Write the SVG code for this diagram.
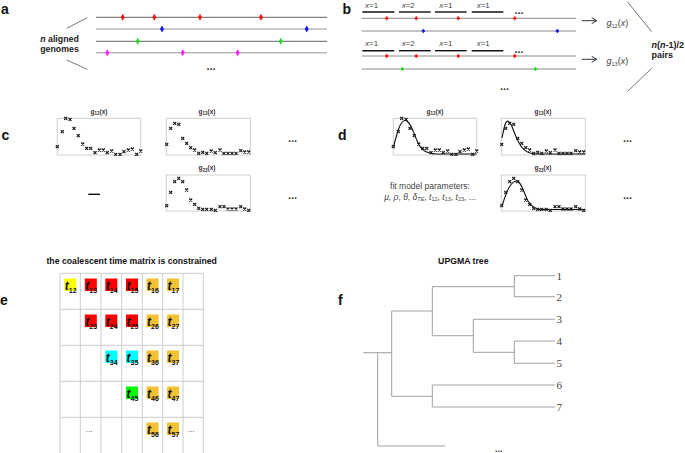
<svg xmlns="http://www.w3.org/2000/svg" width="685" height="453" viewBox="0 0 685 453">
<style>
text{font-family:"Liberation Sans",Arial,sans-serif}
.lbl{font-size:14px;font-weight:bold;fill:#111}
.gl1{stroke:#808080;stroke-width:1.2}
.gl2{stroke:#b8b8b8;stroke-width:1.6}
.gl3{stroke:#8a8a8a;stroke-width:1}
.seg{stroke:#111;stroke-width:1.4}
.br{stroke:#666;stroke-width:0.9}
.r{fill:#ff1010}.b{fill:#1818e8}.g{fill:#22e022}.m{fill:#ff20ff}
.xl{font-size:8px;fill:#444}
.box{fill:none;stroke:#cfcfcf;stroke-width:1}
.pt{font-size:6.5px;fill:#333;font-weight:bold}
.cv{fill:none;stroke:#111;stroke-width:1.1}
.dots{font-size:11px;fill:#333;font-weight:bold}
.grid{stroke:#cccccc;stroke-width:1;fill:none}
.tt{font-size:12px;font-weight:bold;font-style:italic;fill:#111}
.ts{font-size:7px;font-weight:bold;font-style:normal;fill:#111}
.tr{stroke:#a0a0a0;stroke-width:1;fill:none}
.leaf{font-family:"Liberation Serif","Times New Roman",serif;font-size:11px;fill:#444}
.ttl{font-size:8.7px;font-weight:bold;fill:#111;text-anchor:middle}
</style>
<defs>
<path id="dm" d="M0,-3.5 L2,0 L0,3.5 L-2,0 Z"/>
<path id="dm2" d="M0,-2.3 L1.9,0 L0,2.3 L-1.9,0 Z"/>
<path id="xm" d="M-1.5,-1.5 L1.5,1.5 M1.5,-1.5 L-1.5,1.5" stroke="#1a1a1a" stroke-width="1.2" fill="none"/>
<marker id="arr" markerWidth="8" markerHeight="8" refX="6" refY="4" orient="auto" markerUnits="userSpaceOnUse">
<path d="M1,1 L6,4 L1,7" fill="none" stroke="#333" stroke-width="1"/>
</marker>
</defs>
<rect width="685" height="453" fill="#ffffff"/>

<g id="panel-a">
<text class="lbl" x="1" y="13.5">a</text>
<line class="br" x1="66.7" y1="28.3" x2="87.3" y2="17.7"/>
<line class="br" x1="66.7" y1="60" x2="87.3" y2="69.3"/>
<text x="59.5" y="42" font-size="8.8" font-weight="bold" fill="#222" text-anchor="middle"><tspan font-style="italic">n</tspan> aligned</text>
<text x="59.5" y="52" font-size="8.8" font-weight="bold" fill="#222" text-anchor="middle">genomes</text>
<line class="gl1" x1="96" y1="17.3" x2="327" y2="17.3"/>
<line class="gl2" x1="96" y1="29" x2="327" y2="29"/>
<line class="gl1" x1="96" y1="41.3" x2="327" y2="41.3"/>
<line class="gl2" x1="96" y1="52.7" x2="327" y2="52.7"/>
<g class="r"><use href="#dm" x="122.7" y="17.3"/><use href="#dm" x="154.3" y="17.3"/><use href="#dm" x="200" y="17.3"/><use href="#dm" x="261" y="17.3"/></g>
<g class="b"><use href="#dm" x="162" y="29"/><use href="#dm" x="306.7" y="29"/></g>
<g class="g"><use href="#dm" x="137.7" y="41.3"/><use href="#dm" x="280.7" y="41.3"/></g>
<g class="m"><use href="#dm" x="107.3" y="52.7"/><use href="#dm" x="182.7" y="52.7"/><use href="#dm" x="237.7" y="52.7"/></g>
<text class="dots" x="206.5" y="70">...</text>
</g>

<g id="panel-b">
<text class="lbl" x="342.5" y="13.5">b</text>
<g id="b-pair12">
<text class="xl" x="365" y="7.5"><tspan font-style="italic">x</tspan>=1</text>
<text class="xl" x="401.7" y="7.5"><tspan font-style="italic">x</tspan>=2</text>
<text class="xl" x="439.3" y="7.5"><tspan font-style="italic">x</tspan>=1</text>
<text class="xl" x="476.7" y="7.5"><tspan font-style="italic">x</tspan>=1</text>
<line class="seg" x1="362.3" y1="12" x2="394.3" y2="12"/>
<line class="seg" x1="399" y1="12" x2="430.7" y2="12"/>
<line class="seg" x1="435" y1="12" x2="466.7" y2="12"/>
<line class="seg" x1="471.7" y1="12" x2="503.3" y2="12"/>
<text class="dots" x="514.5" y="13.5">...</text>
<line class="gl3" x1="361.7" y1="18.3" x2="576" y2="18.3"/>
<line class="gl3" x1="361.7" y1="31" x2="576" y2="31" stroke="#a0a0a0"/>
<g class="r"><use href="#dm2" x="386.7" y="18.3"/><use href="#dm2" x="416.3" y="18.3"/><use href="#dm2" x="458.3" y="18.3"/><use href="#dm2" x="514.7" y="18.3"/></g>
<g class="b"><use href="#dm2" x="423.3" y="31"/><use href="#dm2" x="557.3" y="31"/></g>
</g>
<g id="b-pair13">
<text class="xl" x="365" y="45.5"><tspan font-style="italic">x</tspan>=1</text>
<text class="xl" x="401.7" y="45.5"><tspan font-style="italic">x</tspan>=2</text>
<text class="xl" x="439.3" y="45.5"><tspan font-style="italic">x</tspan>=1</text>
<text class="xl" x="476.7" y="45.5"><tspan font-style="italic">x</tspan>=1</text>
<line class="seg" x1="362.3" y1="50.7" x2="394.3" y2="50.7"/>
<line class="seg" x1="399" y1="50.7" x2="430.7" y2="50.7"/>
<line class="seg" x1="435" y1="50.7" x2="466.7" y2="50.7"/>
<line class="seg" x1="471.7" y1="50.7" x2="503.3" y2="50.7"/>
<text class="dots" x="514.5" y="52.5">...</text>
<line class="gl3" x1="361.7" y1="56" x2="576" y2="56"/>
<line class="gl3" x1="361.7" y1="69" x2="576" y2="69" stroke="#a0a0a0"/>
<g class="r"><use href="#dm2" x="386.7" y="56"/><use href="#dm2" x="416.3" y="56"/><use href="#dm2" x="458.3" y="56"/><use href="#dm2" x="514.7" y="56"/></g>
<g class="g"><use href="#dm2" x="402.3" y="69"/><use href="#dm2" x="535.3" y="69"/></g>
</g>
<text class="dots" x="500" y="90">...</text>
<g id="b-connectors">
<line x1="581.7" y1="20.7" x2="596.7" y2="20.7" stroke="#333" stroke-width="1" marker-end="url(#arr)"/>
<line x1="581.7" y1="59.3" x2="596.7" y2="59.3" stroke="#333" stroke-width="1" marker-end="url(#arr)"/>
<line class="br" x1="627.3" y1="1.7" x2="651.7" y2="31.7" stroke="#555"/>
<line class="br" x1="651.7" y1="68.3" x2="627.3" y2="91.7" stroke="#555"/>
</g>
<text x="606.5" y="26" font-size="9" fill="#444"><tspan font-style="italic">g</tspan><tspan font-size="5.5" dy="2">12</tspan><tspan dy="-2">(</tspan><tspan font-style="italic">x</tspan>)</text>
<text x="606.5" y="64" font-size="9" fill="#444"><tspan font-style="italic">g</tspan><tspan font-size="5.5" dy="2">13</tspan><tspan dy="-2">(</tspan><tspan font-style="italic">x</tspan>)</text>
<text x="651.5" y="48" font-size="9" font-weight="bold" fill="#222"><tspan font-style="italic">n</tspan>(<tspan font-style="italic">n</tspan>-1)/2</text>
<text x="651.5" y="58" font-size="9" font-weight="bold" fill="#222">pairs</text>
</g>

<g id="panel-c">
<text class="lbl" x="1.5" y="140">c</text>
<g id="c-g12">
<text class="pt" x="99" y="113.5" text-anchor="middle">g<tspan font-size="4.5" dy="1.5">12</tspan><tspan dy="-1.5">(x)</tspan></text>
<rect class="box" x="57.3" y="118.3" width="83.4" height="36.7"/>
<g><use href="#xm" x="57.3" y="146.7"/><use href="#xm" x="62.3" y="131.7"/><use href="#xm" x="65.7" y="118.3"/><use href="#xm" x="70" y="119.3"/><use href="#xm" x="74" y="128.3"/><use href="#xm" x="78.3" y="135.7"/><use href="#xm" x="82.7" y="144"/><use href="#xm" x="86.7" y="148.3"/><use href="#xm" x="90.7" y="148.3"/><use href="#xm" x="95" y="152.7"/><use href="#xm" x="99.3" y="150"/><use href="#xm" x="103.3" y="150"/><use href="#xm" x="107.3" y="152.7"/><use href="#xm" x="111.7" y="151"/><use href="#xm" x="115.7" y="154.3"/><use href="#xm" x="120" y="154.3"/><use href="#xm" x="124" y="151.7"/><use href="#xm" x="128.3" y="150"/><use href="#xm" x="132.3" y="149"/><use href="#xm" x="136.7" y="154.3"/><use href="#xm" x="140.7" y="151"/></g>
</g>
<g id="c-g13">
<text class="pt" x="207" y="113.5" text-anchor="middle">g<tspan font-size="4.5" dy="1.5">13</tspan><tspan dy="-1.5">(x)</tspan></text>
<rect class="box" x="166.3" y="118.3" width="84" height="36.7"/>
<g><use href="#xm" x="166.7" y="144.3"/><use href="#xm" x="170.7" y="128.3"/><use href="#xm" x="174.7" y="123.3"/><use href="#xm" x="178.7" y="124.3"/><use href="#xm" x="182.7" y="138.3"/><use href="#xm" x="186.7" y="143.3"/><use href="#xm" x="190.7" y="147.7"/><use href="#xm" x="194.7" y="150"/><use href="#xm" x="198.7" y="153.3"/><use href="#xm" x="202.7" y="152.3"/><use href="#xm" x="206.7" y="153.3"/><use href="#xm" x="211.3" y="151"/><use href="#xm" x="215.3" y="152.7"/><use href="#xm" x="220" y="150"/><use href="#xm" x="224" y="153.3"/><use href="#xm" x="228" y="153.3"/><use href="#xm" x="232" y="153.3"/><use href="#xm" x="236" y="153.3"/><use href="#xm" x="240.7" y="150.7"/><use href="#xm" x="244.7" y="152"/><use href="#xm" x="248.7" y="152"/></g>
</g>
<g id="c-g23">
<text class="pt" x="207" y="170" text-anchor="middle">g<tspan font-size="4.5" dy="1.5">23</tspan><tspan dy="-1.5">(x)</tspan></text>
<rect class="box" x="166.3" y="175" width="84" height="36"/>
<g><use href="#xm" x="166.7" y="205.7"/><use href="#xm" x="170.7" y="192.3"/><use href="#xm" x="174.7" y="181.7"/><use href="#xm" x="178.7" y="178.3"/><use href="#xm" x="182.7" y="181.7"/><use href="#xm" x="186.7" y="190"/><use href="#xm" x="190.7" y="200"/><use href="#xm" x="194.7" y="204.3"/><use href="#xm" x="198.7" y="208.3"/><use href="#xm" x="202.7" y="209.3"/><use href="#xm" x="206.7" y="209.3"/><use href="#xm" x="211.3" y="209.3"/><use href="#xm" x="215.3" y="210.3"/><use href="#xm" x="220" y="206.7"/><use href="#xm" x="224" y="206.7"/><use href="#xm" x="228" y="209"/><use href="#xm" x="232" y="209"/><use href="#xm" x="236" y="209"/><use href="#xm" x="240.7" y="206.7"/><use href="#xm" x="244.7" y="209"/><use href="#xm" x="248.7" y="210.3"/></g>
</g>
<line x1="88.3" y1="194.3" x2="100" y2="194.3" stroke="#111" stroke-width="1.4"/>
<text class="dots" x="288" y="142" font-weight="normal">...</text>
<text class="dots" x="288" y="198.5" font-weight="normal">...</text>
</g>

<g id="panel-d">
<text class="lbl" x="338" y="140">d</text>
<g id="d-g12">
<text class="pt" x="435" y="113.5" text-anchor="middle">g<tspan font-size="4.5" dy="1.5">12</tspan><tspan dy="-1.5">(x)</tspan></text>
<rect class="box" x="393.3" y="118.3" width="83.4" height="36.7"/>
<path class="cv" d="M393.5,147 C397,133 400,121 405,120.5 C410,120 414,134 418,143 C422,151 427,153.5 436,154 L476.5,154"/>
<g transform="translate(336,0)"><use href="#xm" x="57.3" y="146.7"/><use href="#xm" x="62.3" y="131.7"/><use href="#xm" x="65.7" y="118.3"/><use href="#xm" x="70" y="119.3"/><use href="#xm" x="74" y="128.3"/><use href="#xm" x="78.3" y="135.7"/><use href="#xm" x="82.7" y="144"/><use href="#xm" x="86.7" y="148.3"/><use href="#xm" x="90.7" y="148.3"/><use href="#xm" x="95" y="152.7"/><use href="#xm" x="99.3" y="150"/><use href="#xm" x="103.3" y="150"/><use href="#xm" x="107.3" y="152.7"/><use href="#xm" x="111.7" y="151"/><use href="#xm" x="115.7" y="154.3"/><use href="#xm" x="120" y="154.3"/><use href="#xm" x="124" y="151.7"/><use href="#xm" x="128.3" y="150"/><use href="#xm" x="132.3" y="149"/><use href="#xm" x="136.7" y="154.3"/><use href="#xm" x="140.7" y="151"/></g>
</g>
<g id="d-g13">
<text class="pt" x="543" y="113.5" text-anchor="middle">g<tspan font-size="4.5" dy="1.5">13</tspan><tspan dy="-1.5">(x)</tspan></text>
<rect class="box" x="501.3" y="118.3" width="84" height="36.7"/>
<path class="cv" d="M502,138 C504,128 505,121 508,121 C511,121 514,133 518,141 C522,149 526,153 534,154 L585,154"/>
<g transform="translate(335,0)"><use href="#xm" x="166.7" y="144.3"/><use href="#xm" x="170.7" y="128.3"/><use href="#xm" x="174.7" y="123.3"/><use href="#xm" x="178.7" y="124.3"/><use href="#xm" x="182.7" y="138.3"/><use href="#xm" x="186.7" y="143.3"/><use href="#xm" x="190.7" y="147.7"/><use href="#xm" x="194.7" y="150"/><use href="#xm" x="198.7" y="153.3"/><use href="#xm" x="202.7" y="152.3"/><use href="#xm" x="206.7" y="153.3"/><use href="#xm" x="211.3" y="151"/><use href="#xm" x="215.3" y="152.7"/><use href="#xm" x="220" y="150"/><use href="#xm" x="224" y="153.3"/><use href="#xm" x="228" y="153.3"/><use href="#xm" x="232" y="153.3"/><use href="#xm" x="236" y="153.3"/><use href="#xm" x="240.7" y="150.7"/><use href="#xm" x="244.7" y="152"/><use href="#xm" x="248.7" y="152"/></g>
</g>
<g id="d-g23">
<text class="pt" x="543" y="170" text-anchor="middle">g<tspan font-size="4.5" dy="1.5">23</tspan><tspan dy="-1.5">(x)</tspan></text>
<rect class="box" x="501.3" y="175" width="84" height="36"/>
<path class="cv" d="M502,206 C507,190 511,181 516.7,181 C521,181 524,193 528,201 C532,207 535,209 540,209.5 L585,209.5"/>
<g transform="translate(335,0)"><use href="#xm" x="166.7" y="205.7"/><use href="#xm" x="170.7" y="192.3"/><use href="#xm" x="174.7" y="181.7"/><use href="#xm" x="178.7" y="178.3"/><use href="#xm" x="182.7" y="181.7"/><use href="#xm" x="186.7" y="190"/><use href="#xm" x="190.7" y="200"/><use href="#xm" x="194.7" y="204.3"/><use href="#xm" x="198.7" y="208.3"/><use href="#xm" x="202.7" y="209.3"/><use href="#xm" x="206.7" y="209.3"/><use href="#xm" x="211.3" y="209.3"/><use href="#xm" x="215.3" y="210.3"/><use href="#xm" x="220" y="206.7"/><use href="#xm" x="224" y="206.7"/><use href="#xm" x="228" y="209"/><use href="#xm" x="232" y="209"/><use href="#xm" x="236" y="209"/><use href="#xm" x="240.7" y="206.7"/><use href="#xm" x="244.7" y="209"/><use href="#xm" x="248.7" y="210.3"/></g>
</g>
<text x="430" y="188.5" font-size="8.5" fill="#444" text-anchor="middle">fit model parameters:</text>
<text x="430" y="199.5" font-size="8.5" fill="#444" text-anchor="middle" font-style="italic">μ<tspan font-style="normal">, </tspan>ρ<tspan font-style="normal">, </tspan>θ<tspan font-style="normal">, </tspan>δ<tspan font-size="5.5" dy="1.5">TE</tspan><tspan font-style="normal" dy="-1.5">, </tspan>t<tspan font-size="5.5" font-style="normal" dy="1.5">12</tspan><tspan font-style="normal" dy="-1.5">, </tspan>t<tspan font-size="5.5" font-style="normal" dy="1.5">13</tspan><tspan font-style="normal" dy="-1.5">, </tspan>t<tspan font-size="5.5" font-style="normal" dy="1.5">23</tspan><tspan font-style="normal" dy="-1.5">, ...</tspan></text>
<text class="dots" x="623" y="142" font-weight="normal">...</text>
<text class="dots" x="623" y="198.5" font-weight="normal">...</text>
</g>

<g id="panel-e">
<text class="lbl" x="0" y="305">e</text>
<text class="ttl" x="131.7" y="264">the coalescent time matrix is constrained</text>
<g id="e-grid" class="grid">
<path d="M60,273.3 V453 M80.3,273.3 V453 M101,273.3 V453 M121.7,273.3 V453 M142.3,273.3 V453 M162.7,273.3 V453 M183,273.3 V453 M203.3,273.3 V453"/>
<path d="M60,273.3 H203.3 M60,309.3 H203.3 M60,345.3 H203.3 M60,381.3 H203.3 M60,417.3 H203.3"/>
</g>
<g id="e-cells">
<rect x="64.3" y="278.5" width="12" height="12.5" fill="#ffff00"/>
<rect x="84.8" y="278.5" width="12" height="12.5" fill="#ff0000"/>
<rect x="105.3" y="278.5" width="12" height="12.5" fill="#ff0000"/>
<rect x="126" y="278.5" width="12" height="12.5" fill="#ff0000"/>
<rect x="146.6" y="278.5" width="12" height="12.5" fill="#f2c232"/>
<rect x="167" y="278.5" width="12" height="12.5" fill="#f2c232"/>
<rect x="84.8" y="314.5" width="12" height="12.5" fill="#ff0000"/>
<rect x="105.3" y="314.5" width="12" height="12.5" fill="#ff0000"/>
<rect x="126" y="314.5" width="12" height="12.5" fill="#ff0000"/>
<rect x="146.6" y="314.5" width="12" height="12.5" fill="#f2c232"/>
<rect x="167" y="314.5" width="12" height="12.5" fill="#f2c232"/>
<rect x="105.3" y="350.5" width="12" height="12.5" fill="#00ffff"/>
<rect x="126" y="350.5" width="12" height="12.5" fill="#00ffff"/>
<rect x="146.6" y="350.5" width="12" height="12.5" fill="#f2c232"/>
<rect x="167" y="350.5" width="12" height="12.5" fill="#f2c232"/>
<rect x="126" y="386.5" width="12" height="12.5" fill="#00ff00"/>
<rect x="146.6" y="386.5" width="12" height="12.5" fill="#f2c232"/>
<rect x="167" y="386.5" width="12" height="12.5" fill="#f2c232"/>
<rect x="146.6" y="422.5" width="12" height="12.5" fill="#f2c232"/>
<rect x="167" y="422.5" width="12" height="12.5" fill="#f2c232"/>
</g>
<g id="e-labels">
<text class="tt" x="64.8" y="289.5">t<tspan class="ts" dy="3.5">12</tspan></text>
<text class="tt" x="85.3" y="289.5">t<tspan class="ts" dy="3.5">13</tspan></text>
<text class="tt" x="105.8" y="289.5">t<tspan class="ts" dy="3.5">14</tspan></text>
<text class="tt" x="126.5" y="289.5">t<tspan class="ts" dy="3.5">15</tspan></text>
<text class="tt" x="147.1" y="289.5">t<tspan class="ts" dy="3.5">16</tspan></text>
<text class="tt" x="167.5" y="289.5">t<tspan class="ts" dy="3.5">17</tspan></text>
<text class="tt" x="85.3" y="325.5">t<tspan class="ts" dy="3.5">23</tspan></text>
<text class="tt" x="105.8" y="325.5">t<tspan class="ts" dy="3.5">24</tspan></text>
<text class="tt" x="126.5" y="325.5">t<tspan class="ts" dy="3.5">25</tspan></text>
<text class="tt" x="147.1" y="325.5">t<tspan class="ts" dy="3.5">26</tspan></text>
<text class="tt" x="167.5" y="325.5">t<tspan class="ts" dy="3.5">27</tspan></text>
<text class="tt" x="105.8" y="361.5">t<tspan class="ts" dy="3.5">34</tspan></text>
<text class="tt" x="126.5" y="361.5">t<tspan class="ts" dy="3.5">35</tspan></text>
<text class="tt" x="147.1" y="361.5">t<tspan class="ts" dy="3.5">36</tspan></text>
<text class="tt" x="167.5" y="361.5">t<tspan class="ts" dy="3.5">37</tspan></text>
<text class="tt" x="126.5" y="397.5">t<tspan class="ts" dy="3.5">45</tspan></text>
<text class="tt" x="147.1" y="397.5">t<tspan class="ts" dy="3.5">46</tspan></text>
<text class="tt" x="167.5" y="397.5">t<tspan class="ts" dy="3.5">47</tspan></text>
<text class="tt" x="147.1" y="433.5">t<tspan class="ts" dy="3.5">56</tspan></text>
<text class="tt" x="167.5" y="433.5">t<tspan class="ts" dy="3.5">57</tspan></text>
<text x="85.8" y="432" font-size="8" fill="#333">...</text>
<text x="188" y="432" font-size="8" fill="#333">...</text>
</g>
</g>

<g id="panel-f">
<text class="lbl" x="338" y="305">f</text>
<text class="ttl" x="463.3" y="264">UPGMA tree</text>
<g id="connectors" class="tr">
<path d="M514.3,275.7 H555 M514.3,296.7 H555 M514.3,275.7 V296.7 M432.3,286.7 H514.3"/>
<path d="M473.3,319.3 H555 M514.3,341 H555 M514.3,363.3 H555 M514.3,341 V363.3 M473.3,352.3 H514.3 M473.3,319.3 V352.3 M432.3,335.7 H473.3"/>
<path d="M432.3,286.7 V335.7 M391.7,311 H432.3"/>
<path d="M432.3,385 H555 M432.3,407 H555 M432.3,385 V407 M391.7,396.3 H432.3"/>
<path d="M391.7,311 V396.3 M363.3,352.7 H391.7 M377.7,352.7 V446 H445"/>
</g>
<g id="leaves">
<text class="leaf" x="556.5" y="279.7">1</text>
<text class="leaf" x="556.5" y="300.7">2</text>
<text class="leaf" x="556.5" y="323.3">3</text>
<text class="leaf" x="556.5" y="345">4</text>
<text class="leaf" x="556.5" y="367.3">5</text>
<text class="leaf" x="556.5" y="389">6</text>
<text class="leaf" x="556.5" y="411">7</text>
</g>
<text x="495" y="452" font-size="9" fill="#333" font-weight="bold">...</text>
</g>
</svg>
